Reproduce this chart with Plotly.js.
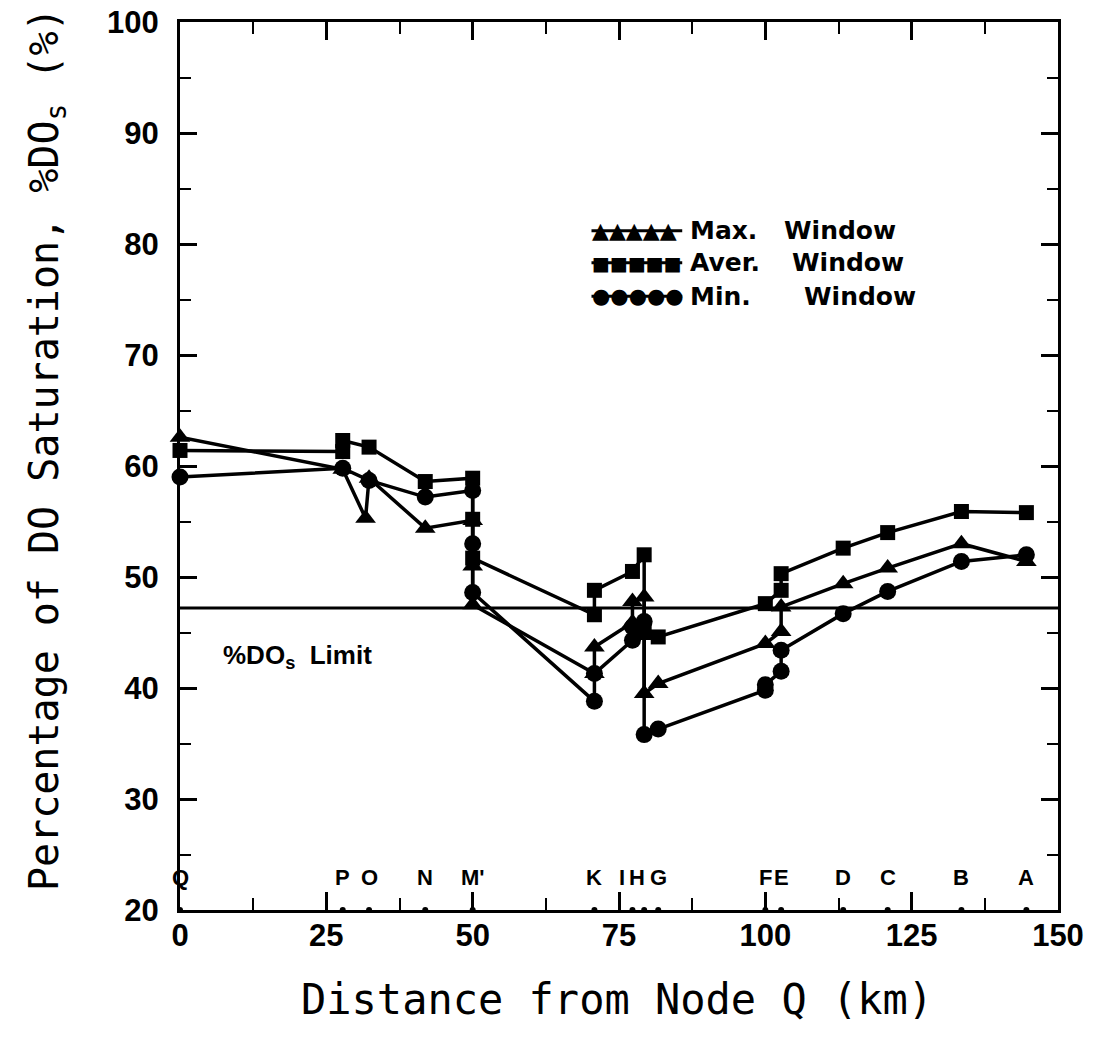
<!DOCTYPE html>
<html>
<head>
<meta charset="utf-8">
<script src="https://cdn.plot.ly/plotly-3.0.1.min.js"></script>
<style>html,body{margin:0;padding:0;background:#fff;}#chart{width:1096px;height:1053px;}</style>
</head>
<body>
<div id="chart"></div>
<script>
// Nodes along the river (km from node Q)
const nodeNames = ['Q', 'P', 'O', 'N', "M'", 'K', 'I', 'H', 'G', 'F', 'E', 'D', 'C', 'B', 'A'];
const nodeKm = [0, 27.8, 32.3, 41.9, 50, 70.8, 77.3, 79.3, 81.7, 100, 102.7, 113.3, 120.9, 133.5, 144.6];

// Max. Window
const maxX = [0, 27.8, 31.7, 32.3, 41.9, 50, 50, 50, 70.8, 70.8, 77.3, 77.3, 79.3, 79.3, 81.7, 100, 102.7, 102.7, 113.3, 120.9, 133.5, 144.6];
const maxY = [62.6, 59.7, 55.3, 58.9, 54.4, 55.1, 51.0, 47.5, 41.3, 43.7, 45.9, 47.8, 48.2, 39.5, 40.4, 44.0, 45.1, 47.3, 49.4, 50.8, 53.0, 51.4];

// Aver. Window
const avgX = [0, 27.8, 27.8, 32.3, 41.9, 50, 50, 50, 70.8, 70.8, 77.3, 79.3, 79.3, 81.7, 100, 102.7, 102.7, 113.3, 120.9, 133.5, 144.6];
const avgY = [61.4, 61.3, 62.3, 61.7, 58.6, 58.9, 55.2, 51.7, 46.6, 48.8, 50.5, 52.0, 45.0, 44.6, 47.6, 48.8, 50.3, 52.6, 54.0, 55.9, 55.8];

// Min. Window
const minX = [0, 27.8, 32.3, 41.9, 50, 50, 50, 70.8, 70.8, 77.3, 77.3, 79.3, 79.3, 81.7, 100, 100, 102.7, 102.7, 113.3, 120.9, 133.5, 144.6];
const minY = [59.0, 59.8, 58.7, 57.2, 57.8, 53.0, 48.6, 38.8, 41.3, 44.3, 45.5, 46.0, 35.8, 36.3, 39.8, 40.3, 41.5, 43.4, 46.7, 48.7, 51.4, 52.0];

// %DOs limit
const limitValue = 47.2;
const limitX = [0, 150];

const xTicks = [0, 25, 50, 75, 100, 125, 150];

const black = '#000';
const lineW = 3.5;

function series(x, y, symbol, size) {
  return {
    type: 'scatter', mode: 'lines+markers', x: x, y: y,
    line: {color: black, width: lineW},
    marker: {symbol: symbol, size: size, color: black},
    showlegend: false, cliponaxis: false, hoverinfo: 'skip'
  };
}

const traces = [
  {type: 'scatter', mode: 'lines', x: limitX, y: limitX.map(() => limitValue),
   line: {color: black, width: 3}, showlegend: false, hoverinfo: 'skip'},
  series(maxX, maxY, 'triangle-up', 18),
  series(avgX, avgY, 'square', 15),
  series(minX, minY, 'circle', 17),
  {type: 'scatter', mode: 'markers', x: nodeKm, y: nodeKm.map(() => 20),
   marker: {color: black, size: 6}, cliponaxis: false, showlegend: false, hoverinfo: 'skip'}
];

// small horizontal nudges for the crowded I-H-G labels (pixels)
const labelShift = {'I': -10, 'H': -7};

const labelFont = {family: 'Liberation Sans, Arial, sans-serif', size: 22, color: black, weight: 'bold'};
const annotations = [];
nodeNames.forEach((n, i) => {
  annotations.push({x: nodeKm[i], y: 22.9, xref: 'x', yref: 'y', text: n, showarrow: false,
    font: labelFont, xanchor: 'center', yanchor: 'middle', xshift: labelShift[n] || 0});
});

// Legend (drawn as annotations)
const legendFont = {family: 'DejaVu Sans, sans-serif', size: 25, color: black, weight: 'bold'};
const legendRows = [
  {sym: '\u25B2\u25B2\u25B2\u25B2\u25B2', symSize: 22, name: 'Max.', y: 81.2, wx: 102.9},
  {sym: '\u25A0\u25A0\u25A0\u25A0\u25A0', symSize: 19, name: 'Aver.', y: 78.3, wx: 104.2},
  {sym: '\u25CF\u25CF\u25CF\u25CF\u25CF', symSize: 21, name: 'Min.', y: 75.3, wx: 106.3}
];
const shapes = [];
legendRows.forEach(r => {
  annotations.push({x: 70.0, y: r.y, xref: 'x', yref: 'y', text: r.sym, showarrow: false,
    font: {family: 'DejaVu Sans, sans-serif', size: r.symSize, color: black},
    xanchor: 'left', yanchor: 'middle'});
  annotations.push({x: 86.8, y: r.y, xref: 'x', yref: 'y', text: r.name, showarrow: false,
    font: legendFont, xanchor: 'left', yanchor: 'middle'});
  annotations.push({x: r.wx, y: r.y, xref: 'x', yref: 'y', text: 'Window', showarrow: false,
    font: legendFont, xanchor: 'left', yanchor: 'middle'});
  shapes.push({type: 'line', xref: 'x', yref: 'y', x0: 70.3, x1: 85.8, y0: r.y, y1: r.y,
    line: {color: black, width: 3}});
});

annotations.push({x: 7.0, y: 42.8, xref: 'x', yref: 'y', text: '%DO<sub>s</sub>  Limit', showarrow: false,
  font: {family: 'Liberation Sans, Arial, sans-serif', size: 26, color: black, weight: 'bold'},
  xanchor: 'left', yanchor: 'middle'});

// Axis titles
annotations.push({x: 0.498, y: -0.101, xref: 'paper', yref: 'paper', text: 'Distance from Node Q (km)',
  showarrow: false, font: {family: 'DejaVu Sans Mono, monospace', size: 42, color: black},
  xanchor: 'center', yanchor: 'middle'});
annotations.push({x: -0.1515, y: 0.519, xref: 'paper', yref: 'paper',
  text: 'Percentage of DO Saturation, %DO<sub>s</sub> (%)', textangle: -90,
  showarrow: false, font: {family: 'DejaVu Sans Mono, monospace', size: 40, color: black},
  xanchor: 'center', yanchor: 'middle'});

const tickFont = {family: 'Liberation Sans, Arial, sans-serif', size: 31, color: black, weight: 'bold'};

const layout = {
  width: 1096, height: 1053,
  margin: {l: 180, r: 38, t: 22, b: 143},
  paper_bgcolor: '#fff', plot_bgcolor: '#fff',
  showlegend: false,
  xaxis: {
    range: [0, 150], tickvals: xTicks, ticks: 'inside', ticklen: 18, tickwidth: 3, tickcolor: black,
    showline: true, linewidth: 3, linecolor: black, mirror: 'ticks',
    showgrid: false, zeroline: false, tickfont: tickFont, ticklabelstandoff: -4,
    minor: {dtick: 12.5, ticks: 'inside', ticklen: 12, tickwidth: 2, tickcolor: black, showgrid: false}
  },
  yaxis: {
    range: [20, 100], dtick: 10, ticks: 'inside', ticklen: 17, tickwidth: 3, tickcolor: black,
    showline: true, linewidth: 3, linecolor: black, mirror: 'ticks',
    showgrid: false, zeroline: false, tickfont: tickFont, ticklabelstandoff: 12,
    minor: {dtick: 5, ticks: 'inside', ticklen: 11, tickwidth: 2, tickcolor: black, showgrid: false}
  },
  annotations: annotations,
  shapes: shapes
};

Plotly.newPlot('chart', traces, layout, {staticPlot: true, displayModeBar: false});
</script>
</body>
</html>
